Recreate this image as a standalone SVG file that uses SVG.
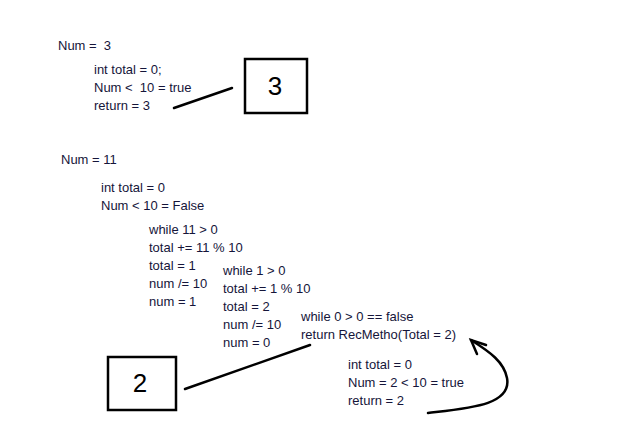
<svg xmlns="http://www.w3.org/2000/svg" width="642" height="438" viewBox="0 0 642 438">
<style>
text{font-family:"Liberation Sans",Arial,sans-serif;font-size:13px;fill:#15153a;white-space:pre}
.big{font-size:26px;fill:#000}
.box{fill:none;stroke:#000;stroke-width:2.5}
.ln{fill:none;stroke:#000;stroke-width:2.5;stroke-linecap:round}
</style>
<rect width="642" height="438" fill="#fff"/>
<g id="case3">
<text x="58" y="50">Num =  3</text>
<text x="94" y="74">int total = 0;</text>
<text x="94" y="92">Num &lt;  10 = true</text>
<text x="94" y="110">return = 3</text>
</g>
<g id="box3">
<rect class="box" x="245" y="59" width="62" height="54"/>
<text class="big" x="275" y="95" text-anchor="middle">3</text>
</g>
<g id="case11">
<text x="61" y="164">Num = 11</text>
<text x="101" y="192">int total = 0</text>
<text x="101" y="210">Num &lt; 10 = False</text>
</g>
<g id="loop1">
<text x="149" y="234">while 11 &gt; 0</text>
<text x="149" y="252">total += 11 % 10</text>
<text x="149" y="270">total = 1</text>
<text x="149" y="288">num /= 10</text>
<text x="149" y="306">num = 1</text>
</g>
<g id="loop2">
<text x="223" y="275">while 1 &gt; 0</text>
<text x="223" y="293">total += 1 % 10</text>
<text x="223" y="311">total = 2</text>
<text x="223" y="329">num /= 10</text>
<text x="223" y="347">num = 0</text>
</g>
<g id="loop3">
<text x="301" y="321">while 0 &gt; 0 == false</text>
<text x="301" y="339">return RecMetho(Total = 2)</text>
</g>
<g id="rec">
<text x="348" y="369">int total = 0</text>
<text x="348" y="387">Num = 2 &lt; 10 = true</text>
<text x="348" y="405">return = 2</text>
</g>
<g id="box2">
<rect class="box" x="108" y="357" width="68" height="53"/>
<text class="big" x="140" y="392" text-anchor="middle">2</text>
</g>
<g id="connectors">
<line class="ln" x1="174" y1="108" x2="232" y2="88"/>
<line class="ln" x1="185" y1="389" x2="310" y2="345"/>
<path class="ln" d="M428,413 C470,408 512,405 507,378 C504,362 490,352 471,340"/>
<path class="ln" d="M486,345 L471,340 L477,354"/>
</g>
</svg>
